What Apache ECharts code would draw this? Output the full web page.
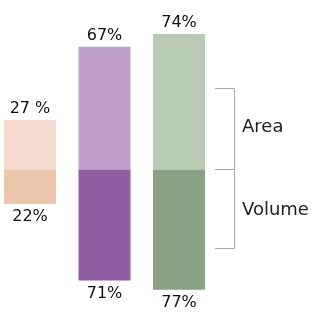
<!DOCTYPE html>
<html>
<head>
<meta charset="utf-8">
<script src="https://cdn.jsdelivr.net/npm/echarts@6/dist/echarts.min.js"></script>
<style>
  html, body { margin: 0; padding: 0; background: #fff; }
  #chart { width: 319px; height: 318px; }
</style>
</head>
<body>
<div id="chart"></div>
<script>
// data
const categories = ['A', 'B', 'C'];
const areaValues = [27, 67, 74];
const volumeValues = [22, 71, 77];
const areaLabels = ['27 %', '67%', '74%'];
const volumeLabels = ['22%', '71%', '77%'];
const areaColors = ['#F3DBCF', '#BFA0CC', '#B8C9B4'];
const volumeColors = ['#EBC5AC', '#925EA3', '#8AA283'];
const legendNames = ['Area', 'Volume'];

const font = '"DejaVu Sans", sans-serif';
const chart = echarts.init(document.getElementById('chart'));

const option = {
    animation: false,
    grid: [
        // area part, grows upward
        { left: 30, width: 149, top: 23, height: 146.5 },
        // volume part, grows downward
        { left: 30, width: 149, top: 169.5, height: 125 }
    ],
    xAxis: [
        { type: 'category', data: categories, gridIndex: 0, boundaryGap: false, show: false },
        { type: 'category', data: categories, gridIndex: 1, boundaryGap: false, show: false }
    ],
    yAxis: [
        { type: 'value', gridIndex: 0, min: 0, max: 80, show: false },
        { type: 'value', gridIndex: 1, min: 0, max: 80, inverse: true, show: false }
    ],
    series: [
        {
            name: legendNames[0],
            type: 'bar',
            xAxisIndex: 0,
            yAxisIndex: 0,
            barWidth: 52,
            clip: false,
            data: areaValues.map((v, i) => ({ value: v, itemStyle: { color: areaColors[i] } })),
            label: {
                show: true,
                position: 'top',
                distance: 3,
                fontFamily: font,
                fontSize: 16,
                color: '#111',
                formatter: p => areaLabels[p.dataIndex]
            }
        },
        {
            name: legendNames[1],
            type: 'bar',
            xAxisIndex: 1,
            yAxisIndex: 1,
            barWidth: 52,
            clip: false,
            data: volumeValues.map((v, i) => ({ value: v, itemStyle: { color: volumeColors[i] } })),
            label: {
                show: true,
                position: 'bottom',
                distance: 5,
                fontFamily: font,
                fontSize: 16,
                color: '#111',
                formatter: p => volumeLabels[p.dataIndex]
            }
        }
    ],
    graphic: [
        {
            type: 'polyline',
            shape: { points: [[215, 88.5], [234.5, 88.5], [234.5, 248.5], [215, 248.5]] },
            style: { stroke: '#aaa', lineWidth: 1, fill: null }
        },
        {
            type: 'line',
            shape: { x1: 215, y1: 169.5, x2: 234.5, y2: 169.5 },
            style: { stroke: '#aaa', lineWidth: 1 }
        },
        {
            type: 'text',
            style: { x: 242, y: 127, text: legendNames[0], font: '18px ' + font, fill: '#222', verticalAlign: 'middle' }
        },
        {
            type: 'text',
            style: { x: 242, y: 210, text: legendNames[1], font: '18px ' + font, fill: '#222', verticalAlign: 'middle' }
        }
    ]
};

chart.setOption(option);
</script>
</body>
</html>
